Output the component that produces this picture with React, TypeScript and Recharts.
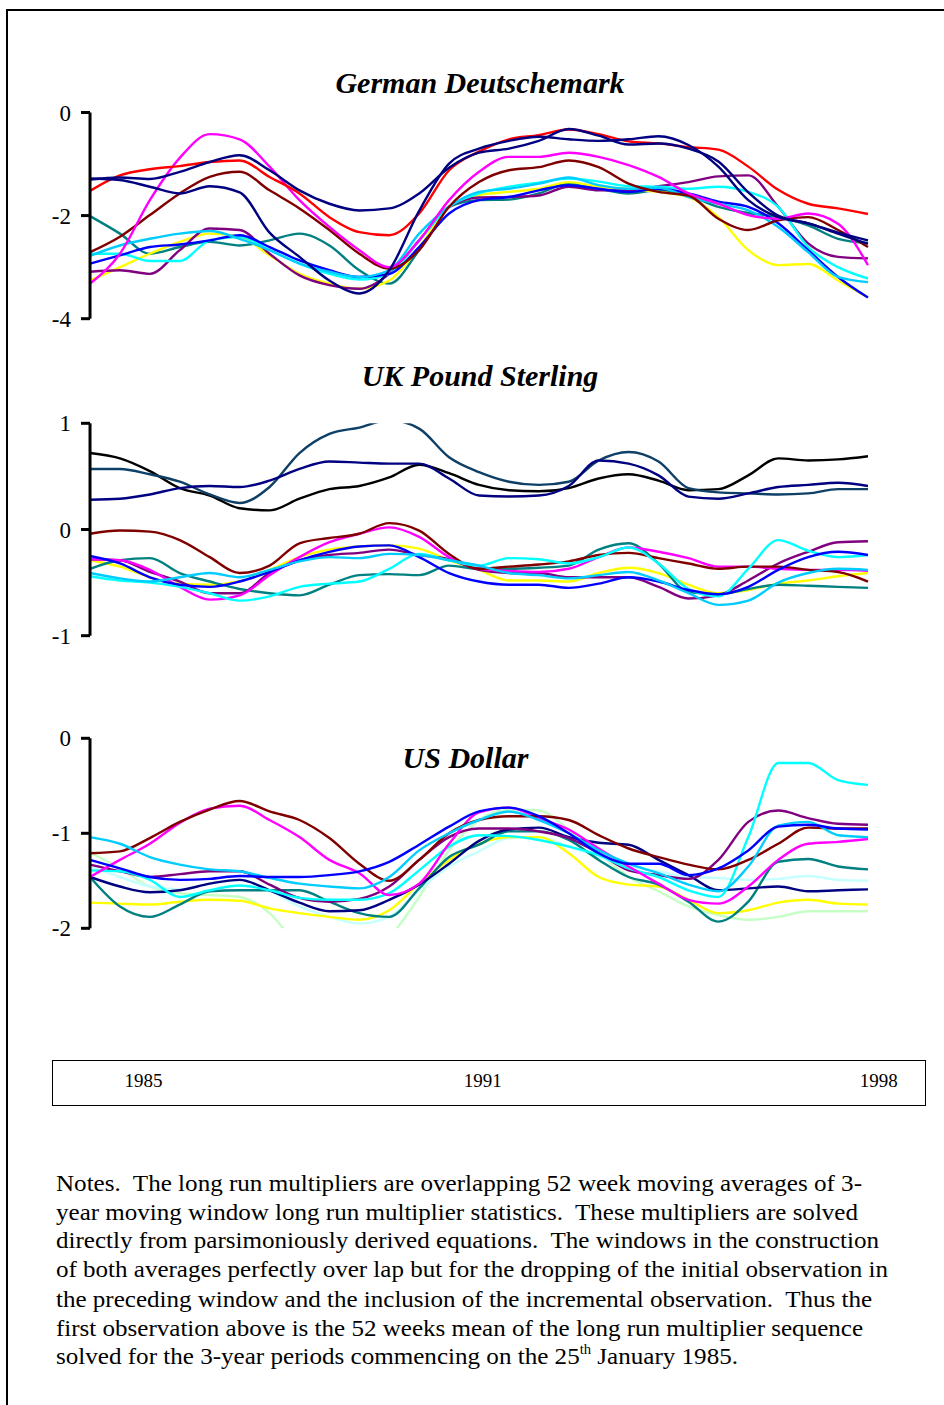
import React from 'react';
import { LineChart, Line, XAxis, YAxis } from 'recharts';

// sample positions along the time axis (52-week moving-average windows, 1985 → 1998)
const SAMPLE = [0, 1, 2, 3, 4, 5, 6, 7, 8, 9, 10, 11, 12, 13, 14, 15, 16, 17, 18, 19, 20, 21, 22, 23, 24, 25, 26];

// ---------------- German Deutschemark ----------------
const dmRed = [-1.52, -1.22, -1.10, -1.04, -0.96, -0.93, -1.25, -1.57, -2.03, -2.32, -2.38, -1.96, -1.12, -0.76, -0.52, -0.44, -0.33, -0.42, -0.56, -0.60, -0.67, -0.72, -1.05, -1.50, -1.77, -1.86, -1.97];
const dmNavyA = [-1.30, -1.26, -1.29, -1.15, -0.96, -0.83, -1.12, -1.51, -1.77, -1.90, -1.86, -1.57, -1.07, -0.78, -0.70, -0.55, -0.32, -0.45, -0.62, -0.60, -0.70, -0.95, -1.55, -2.00, -2.15, -2.33, -2.48];
const dmNavyB = [-1.28, -1.31, -1.44, -1.57, -1.43, -1.55, -2.33, -2.80, -3.26, -3.51, -3.06, -1.91, -0.99, -0.70, -0.55, -0.47, -0.52, -0.55, -0.52, -0.46, -0.63, -1.05, -1.70, -2.03, -2.15, -2.35, -2.55];
const dmMagenta = [-3.32, -2.74, -1.70, -0.88, -0.42, -0.52, -1.05, -1.70, -2.22, -2.67, -3.00, -2.48, -1.70, -1.15, -0.86, -0.86, -0.78, -0.86, -1.02, -1.25, -1.57, -1.77, -1.99, -2.06, -1.96, -2.16, -2.96];
const dmMaroon = [-2.71, -2.41, -1.99, -1.57, -1.25, -1.15, -1.51, -1.86, -2.28, -2.74, -3.03, -2.67, -1.83, -1.35, -1.12, -1.06, -0.93, -1.06, -1.38, -1.54, -1.61, -2.06, -2.28, -2.09, -2.03, -2.28, -2.61];
const dmTeal = [-2.01, -2.35, -2.74, -2.61, -2.51, -2.58, -2.48, -2.35, -2.58, -3.06, -3.32, -2.67, -1.83, -1.70, -1.69, -1.57, -1.38, -1.48, -1.57, -1.51, -1.61, -1.83, -1.95, -2.03, -2.19, -2.45, -2.53];
const dmCyan = [-2.74, -2.74, -2.88, -2.88, -2.48, -2.41, -2.67, -2.93, -3.13, -3.24, -3.13, -2.48, -1.83, -1.57, -1.44, -1.36, -1.28, -1.34, -1.43, -1.44, -1.48, -1.44, -1.54, -1.83, -2.61, -3.00, -3.22];
const dmSkyBlue = [-2.78, -2.58, -2.45, -2.35, -2.30, -2.45, -2.67, -2.93, -3.09, -3.19, -3.06, -2.35, -1.83, -1.54, -1.48, -1.38, -1.26, -1.41, -1.48, -1.46, -1.64, -1.77, -1.90, -2.22, -2.71, -3.19, -3.29];
const dmBlue = [-2.93, -2.77, -2.61, -2.56, -2.48, -2.38, -2.61, -2.87, -3.06, -3.19, -3.13, -2.61, -1.96, -1.70, -1.64, -1.51, -1.41, -1.48, -1.54, -1.48, -1.57, -1.73, -1.83, -2.15, -2.67, -3.19, -3.59];
const dmPurple = [-3.09, -3.06, -3.13, -2.67, -2.25, -2.28, -2.74, -3.16, -3.35, -3.42, -3.13, -2.48, -1.83, -1.65, -1.64, -1.61, -1.44, -1.51, -1.51, -1.43, -1.35, -1.24, -1.22, -1.83, -2.54, -2.80, -2.83];
const dmYellow = [-3.26, -3.00, -2.74, -2.51, -2.35, -2.41, -2.77, -3.13, -3.32, -3.42, -3.26, -2.61, -1.83, -1.60, -1.54, -1.48, -1.35, -1.44, -1.48, -1.54, -1.64, -2.03, -2.67, -2.96, -2.94, -3.26, -3.59];

// ---------------- UK Pound Sterling ----------------
const ukBlack = [0.72, 0.67, 0.55, 0.39, 0.32, 0.20, 0.18, 0.29, 0.38, 0.41, 0.49, 0.61, 0.53, 0.42, 0.37, 0.36, 0.39, 0.48, 0.52, 0.46, 0.37, 0.38, 0.51, 0.67, 0.65, 0.66, 0.69];
const ukDarkTeal = [0.57, 0.57, 0.52, 0.45, 0.33, 0.25, 0.40, 0.72, 0.90, 0.96, 1.03, 0.95, 0.68, 0.54, 0.45, 0.42, 0.45, 0.65, 0.73, 0.64, 0.39, 0.35, 0.34, 0.33, 0.34, 0.38, 0.38];
const ukNavy = [0.28, 0.29, 0.33, 0.39, 0.41, 0.40, 0.46, 0.57, 0.64, 0.63, 0.62, 0.62, 0.48, 0.32, 0.31, 0.32, 0.41, 0.65, 0.62, 0.51, 0.31, 0.29, 0.34, 0.40, 0.42, 0.44, 0.41];
const ukMaroon = [-0.04, -0.01, -0.02, -0.10, -0.26, -0.41, -0.34, -0.13, -0.08, -0.04, 0.06, -0.01, -0.23, -0.37, -0.35, -0.33, -0.30, -0.24, -0.22, -0.27, -0.32, -0.37, -0.35, -0.35, -0.38, -0.40, -0.49];
const ukMagenta = [-0.28, -0.29, -0.38, -0.54, -0.66, -0.62, -0.43, -0.26, -0.12, -0.04, 0.02, -0.07, -0.26, -0.37, -0.39, -0.40, -0.37, -0.26, -0.17, -0.21, -0.27, -0.35, -0.35, -0.37, -0.38, -0.38, -0.39];
const ukYellow = [-0.29, -0.35, -0.45, -0.51, -0.52, -0.49, -0.38, -0.26, -0.19, -0.16, -0.15, -0.18, -0.29, -0.38, -0.48, -0.48, -0.49, -0.41, -0.36, -0.41, -0.52, -0.60, -0.57, -0.51, -0.48, -0.44, -0.41];
const ukBlue = [-0.25, -0.32, -0.45, -0.52, -0.54, -0.49, -0.40, -0.29, -0.21, -0.16, -0.15, -0.26, -0.41, -0.49, -0.52, -0.52, -0.55, -0.51, -0.45, -0.49, -0.57, -0.61, -0.54, -0.38, -0.26, -0.21, -0.24];
const ukPurple = [-0.28, -0.29, -0.40, -0.49, -0.60, -0.60, -0.41, -0.29, -0.24, -0.22, -0.19, -0.24, -0.28, -0.38, -0.41, -0.41, -0.45, -0.45, -0.45, -0.54, -0.65, -0.62, -0.48, -0.32, -0.21, -0.12, -0.11];
const ukTeal = [-0.37, -0.29, -0.27, -0.41, -0.49, -0.56, -0.60, -0.62, -0.52, -0.43, -0.42, -0.43, -0.34, -0.37, -0.37, -0.36, -0.34, -0.19, -0.13, -0.32, -0.59, -0.61, -0.56, -0.52, -0.53, -0.54, -0.55];
const ukSkyBlue = [-0.41, -0.46, -0.49, -0.45, -0.41, -0.45, -0.38, -0.30, -0.26, -0.27, -0.23, -0.24, -0.29, -0.34, -0.41, -0.43, -0.46, -0.43, -0.40, -0.48, -0.60, -0.71, -0.67, -0.50, -0.41, -0.37, -0.38];
const ukCyan = [-0.44, -0.48, -0.50, -0.54, -0.60, -0.67, -0.63, -0.54, -0.51, -0.49, -0.37, -0.23, -0.29, -0.34, -0.27, -0.28, -0.32, -0.26, -0.17, -0.32, -0.56, -0.63, -0.37, -0.10, -0.20, -0.26, -0.24];

// ---------------- US Dollar ----------------
const usMaroon = [-1.21, -1.19, -1.05, -0.88, -0.75, -0.66, -0.77, -0.86, -1.05, -1.32, -1.50, -1.28, -1.00, -0.86, -0.82, -0.82, -0.86, -1.02, -1.16, -1.25, -1.33, -1.38, -1.28, -1.11, -0.94, -0.95, -0.95];
const usMagenta = [-1.46, -1.28, -1.11, -0.89, -0.74, -0.71, -0.86, -1.04, -1.28, -1.42, -1.65, -1.53, -1.11, -0.78, -0.73, -0.84, -0.96, -1.16, -1.35, -1.53, -1.70, -1.74, -1.56, -1.28, -1.11, -1.09, -1.06];
const usSkyBlue = [-1.04, -1.11, -1.25, -1.33, -1.38, -1.40, -1.47, -1.53, -1.56, -1.58, -1.46, -1.18, -1.00, -0.86, -0.77, -0.86, -1.00, -1.18, -1.32, -1.42, -1.54, -1.61, -1.35, -0.92, -0.88, -1.02, -1.04];
const usBlue = [-1.28, -1.37, -1.46, -1.49, -1.48, -1.45, -1.46, -1.46, -1.44, -1.40, -1.30, -1.12, -0.93, -0.77, -0.73, -0.82, -1.00, -1.21, -1.32, -1.32, -1.44, -1.37, -1.18, -0.93, -0.91, -0.95, -0.96];
const usPurple = [-1.33, -1.40, -1.46, -1.43, -1.40, -1.40, -1.54, -1.68, -1.72, -1.69, -1.56, -1.28, -1.04, -0.95, -0.95, -0.98, -1.05, -1.21, -1.39, -1.44, -1.48, -1.28, -0.88, -0.76, -0.84, -0.90, -0.91];
const usNavy = [-1.46, -1.56, -1.62, -1.60, -1.53, -1.49, -1.60, -1.73, -1.82, -1.81, -1.70, -1.54, -1.32, -1.08, -0.96, -0.94, -1.04, -1.10, -1.12, -1.28, -1.44, -1.60, -1.58, -1.56, -1.61, -1.60, -1.59];
const usCyan = [-1.39, -1.40, -1.49, -1.67, -1.60, -1.55, -1.60, -1.68, -1.70, -1.70, -1.63, -1.39, -1.14, -1.02, -1.03, -1.07, -1.14, -1.23, -1.37, -1.46, -1.60, -1.67, -1.04, -0.26, -0.26, -0.44, -0.49];
const usYellow = [-1.73, -1.74, -1.75, -1.72, -1.70, -1.71, -1.79, -1.84, -1.88, -1.91, -1.81, -1.53, -1.28, -1.11, -1.04, -1.04, -1.21, -1.46, -1.54, -1.56, -1.70, -1.84, -1.81, -1.73, -1.70, -1.74, -1.75];
const usTeal = [-1.46, -1.77, -1.88, -1.75, -1.61, -1.60, -1.60, -1.60, -1.72, -1.84, -1.88, -1.58, -1.25, -1.12, -0.98, -0.98, -1.07, -1.28, -1.46, -1.54, -1.72, -1.93, -1.72, -1.30, -1.27, -1.35, -1.38];
const usLightGreen = [-1.20, -1.37, -1.56, -1.63, -1.65, -1.67, -1.84, -2.20, -2.40, -2.35, -2.10, -1.67, -1.18, -0.86, -0.75, -0.76, -0.96, -1.21, -1.46, -1.61, -1.77, -1.86, -1.91, -1.88, -1.82, -1.82, -1.82];
const usLightTurq = [-1.35, -1.46, -1.56, -1.59, -1.53, -1.49, -1.60, -1.77, -1.88, -1.95, -1.88, -1.60, -1.35, -1.19, -1.05, -1.04, -1.14, -1.25, -1.35, -1.40, -1.46, -1.47, -1.49, -1.48, -1.45, -1.49, -1.50];

// ---------------- labels ----------------
const TITLES = ['German Deutschemark', 'UK Pound Sterling', 'US Dollar'];
const DM_TICKS = [0, -2, -4];
const UK_TICKS = [1, 0, -1];
const US_TICKS = [0, -1, -2];
const YEARS = [1985, 1991, 1998];
const NOTES = [
  'Notes.  The long run multipliers are overlapping 52 week moving averages of 3-',
  'year moving window long run multiplier statistics.  These multipliers are solved',
  'directly from parsimoniously derived equations.  The windows in the construction',
  'of both averages perfectly over lap but for the dropping of the initial observation in',
  'the preceding window and the inclusion of the incremental observation.  Thus the',
  'first observation above is the 52 weeks mean of the long run multiplier sequence',
];
const NOTE_LAST = ['solved for the 3-year periods commencing on the 25', 'th', ' January 1985.'];

type Series = { key: string; color: string; values: number[] };

const dmSeries: Series[] = [
  { key: 'teal', color: '#008080', values: dmTeal },
  { key: 'yellow', color: '#FFFF00', values: dmYellow },
  { key: 'purple', color: '#800080', values: dmPurple },
  { key: 'cyan', color: '#00FFFF', values: dmCyan },
  { key: 'blue', color: '#0000FF', values: dmBlue },
  { key: 'skyblue', color: '#00CCFF', values: dmSkyBlue },
  { key: 'maroon', color: '#800000', values: dmMaroon },
  { key: 'magenta', color: '#FF00FF', values: dmMagenta },
  { key: 'red', color: '#FF0000', values: dmRed },
  { key: 'navyA', color: '#000080', values: dmNavyA },
  { key: 'navyB', color: '#000080', values: dmNavyB },
];

const ukSeries: Series[] = [
  { key: 'black', color: '#000000', values: ukBlack },
  { key: 'darkteal', color: '#0E3F66', values: ukDarkTeal },
  { key: 'navy', color: '#000080', values: ukNavy },
  { key: 'yellow', color: '#FFFF00', values: ukYellow },
  { key: 'teal', color: '#008080', values: ukTeal },
  { key: 'purple', color: '#800080', values: ukPurple },
  { key: 'magenta', color: '#FF00FF', values: ukMagenta },
  { key: 'maroon', color: '#800000', values: ukMaroon },
  { key: 'cyan', color: '#00FFFF', values: ukCyan },
  { key: 'blue', color: '#0000FF', values: ukBlue },
  { key: 'skyblue', color: '#00CCFF', values: ukSkyBlue },
];

const usSeries: Series[] = [
  { key: 'lightgreen', color: '#C6FFC6', values: usLightGreen },
  { key: 'lightturq', color: '#C6FFFF', values: usLightTurq },
  { key: 'yellow', color: '#FFFF00', values: usYellow },
  { key: 'teal', color: '#008080', values: usTeal },
  { key: 'navy', color: '#000080', values: usNavy },
  { key: 'purple', color: '#800080', values: usPurple },
  { key: 'cyan', color: '#00FFFF', values: usCyan },
  { key: 'magenta', color: '#FF00FF', values: usMagenta },
  { key: 'maroon', color: '#800000', values: usMaroon },
  { key: 'skyblue', color: '#00CCFF', values: usSkyBlue },
  { key: 'blue', color: '#0000FF', values: usBlue },
];

function buildRows(series: Series[]) {
  return SAMPLE.map((s, k) => {
    const row: Record<string, number> = { s };
    series.forEach((ser) => {
      row[ser.key] = ser.values[k];
    });
    return row;
  });
}

const SERIF = '"Liberation Serif", "Times New Roman", serif';

type PanelProps = {
  series: Series[];
  domain: [number, number];
  ticks: number[];
  top: number;
  height: number;
  mTop: number;
  mBottom: number;
};

function Panel({ series, domain, ticks, top, height, mTop, mBottom }: PanelProps) {
  return (
    <div style={{ position: 'absolute', left: 0, top }}>
      <LineChart
        width={880}
        height={height}
        data={buildRows(series)}
        margin={{ top: mTop, right: 12, bottom: mBottom, left: 0 }}
        style={{ overflow: 'visible' }}
      >
        <XAxis dataKey="s" type="number" domain={[0, 26]} hide />
        <YAxis
          type="number"
          domain={domain}
          ticks={ticks}
          interval={0}
          allowDataOverflow
          width={90}
          axisLine={{ stroke: '#000', strokeWidth: 3 }}
          tickLine={{ stroke: '#000', strokeWidth: 3 }}
          tickSize={9}
          tickMargin={10}
          tick={{ fill: '#000', fontSize: 23, fontFamily: SERIF }}
        />
        {series.map((ser) => (
          <Line
            key={ser.key}
            dataKey={ser.key}
            type="monotone"
            stroke={ser.color}
            strokeWidth={2.4}
            dot={false}
            activeDot={false}
            isAnimationActive={false}
          />
        ))}
      </LineChart>
    </div>
  );
}

const NOTE_WIDTHS = [806, 802, 823, 832, 816, 807];
const NOTE_BASES = [1191, 1220, 1248, 1277, 1307, 1336];

export default function App() {
  const yearRows = YEARS.map((y) => ({ year: y }));
  return (
    <div
      style={{
        position: 'absolute',
        left: 0,
        top: 0,
        width: 944,
        height: 1405,
        overflow: 'hidden',
        background: '#fff',
        fontFamily: SERIF,
      }}
    >
      {/* page frame */}
      <div
        style={{
          position: 'absolute',
          left: 6,
          top: 9,
          width: 980,
          height: 1440,
          borderTop: '2.5px solid #000',
          borderLeft: '2.5px solid #000',
        }}
      />

      <Panel series={dmSeries} domain={[-4, 0]} ticks={DM_TICKS} top={100} height={238.7} mTop={12.5} mBottom={20} />
      <Panel series={ukSeries} domain={[-1, 1]} ticks={UK_TICKS} top={411} height={244.7} mTop={12.3} mBottom={20} />
      <Panel series={usSeries} domain={[-2, 0]} ticks={US_TICKS} top={726} height={222.3} mTop={12.3} mBottom={20} />

      {/* year box */}
      <div
        style={{
          position: 'absolute',
          left: 52,
          top: 1060,
          width: 874,
          height: 46,
          border: '1.5px solid #000',
          boxSizing: 'border-box',
        }}
      >
        <LineChart width={871} height={43} data={yearRows} margin={{ top: 0, right: 0, bottom: 0, left: 0 }}>
          <XAxis
            dataKey="year"
            type="number"
            domain={[1983.4, 1998.8]}
            ticks={YEARS}
            interval={0}
            height={30}
            axisLine={false}
            tickLine={false}
            tickSize={0}
            tickMargin={0}
            tick={{ fill: '#000', fontSize: 19, fontFamily: SERIF }}
          />
          <YAxis hide domain={[0, 1]} />
        </LineChart>
      </div>

      {/* titles and notes */}
      <svg
        width={944}
        height={1405}
        style={{ position: 'absolute', left: 0, top: 0, pointerEvents: 'none' }}
      >
        <g fontFamily={SERIF} fontWeight="bold" fontStyle="italic" fontSize={30} fill="#000" textAnchor="middle">
          <text x={480} y={92.5}>{TITLES[0]}</text>
          <text x={480} y={386}>{TITLES[1]}</text>
          <text x={465.5} y={768}>{TITLES[2]}</text>
        </g>
        <g fontFamily={SERIF} fontSize={24} fill="#000">
          {NOTES.map((line, k) => (
            <text
              key={k}
              x={56}
              y={NOTE_BASES[k]}
              textLength={NOTE_WIDTHS[k]}
              lengthAdjust="spacingAndGlyphs"
              style={{ whiteSpace: 'pre' }}
            >
              {line}
            </text>
          ))}
          <text x={56} y={1364} textLength={682} lengthAdjust="spacingAndGlyphs" style={{ whiteSpace: 'pre' }}>
            <tspan>{NOTE_LAST[0]}</tspan>
            <tspan fontSize={14} dy={-10}>{NOTE_LAST[1]}</tspan>
            <tspan dy={10}>{NOTE_LAST[2]}</tspan>
          </text>
        </g>
      </svg>
    </div>
  );
}
